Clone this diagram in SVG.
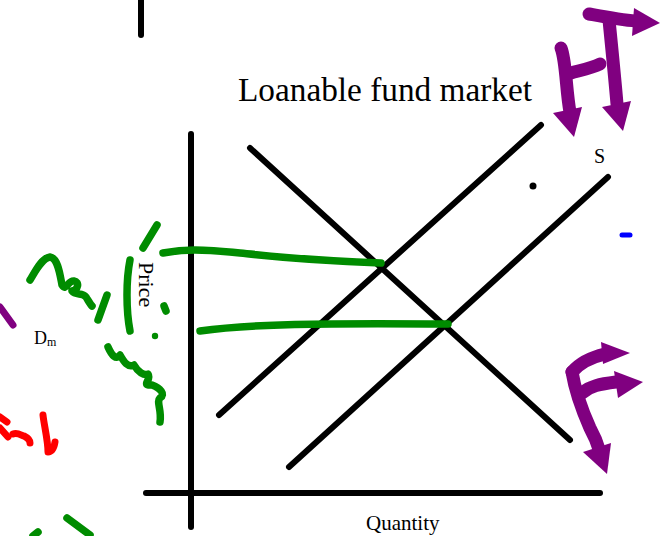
<svg xmlns="http://www.w3.org/2000/svg" width="663" height="536" viewBox="0 0 663 536">
<style>
.ax{stroke:#000;stroke-width:6;stroke-linecap:round;fill:none}
.g{stroke:#008c00;stroke-width:7.5;stroke-linecap:round;stroke-linejoin:round;fill:none}
.p{stroke:#800080;stroke-width:13;stroke-linecap:round;stroke-linejoin:round;fill:none}
.ph{fill:#800080}
.r{stroke:#ff0000;stroke-width:7;stroke-linecap:round;stroke-linejoin:round;fill:none}
.t{font-family:"Liberation Serif","Times New Roman",serif;fill:#000}
</style>
<rect width="663" height="536" fill="#fff"/>
<g id="axes">
<line class="ax" x1="141" y1="0" x2="141" y2="35"/>
<line class="ax" x1="191" y1="134" x2="191" y2="527"/>
<line class="ax" x1="146" y1="493" x2="600" y2="493"/>
</g>
<g id="connectors">
<line id="demand" class="ax" x1="250" y1="148" x2="570" y2="440"/>
<line id="supply1" class="ax" x1="219" y1="415" x2="541" y2="125"/>
<line id="supply2" class="ax" x1="289" y1="467" x2="608" y2="177"/>
</g>
<g id="labels">
<text class="t" x="238" y="101" font-size="33.3">Loanable fund market</text>
<text class="t" x="594" y="163" font-size="20">S</text>
<text class="t" x="366" y="530" font-size="21">Quantity</text>
<text class="t" transform="translate(139,262) rotate(90)" font-size="22">Price</text>
<text class="t" x="34" y="344" font-size="18">D<tspan font-size="12" dy="2">m</tspan></text>
<circle cx="533" cy="186" r="3.5" fill="#000"/>
</g>
<g id="green">
<path class="g" d="M163,253 C185,249 200,249 240,253 C280,257 300,260 381,263"/>
<path class="g" d="M200,331 C250,324 320,323 448,324"/>
<path class="g" d="M30,280 C36,270 42,258 50,257 C58,258 60,275 62,285 C66,292 68,280 74,281 C80,282 78,290 72,291 C76,296 82,292 86,297 C88,300 90,304 92,306"/>
<path class="g" d="M107,295 L98,320"/>
<path class="g" d="M157,225 L143,248"/>
<path class="g" d="M130,260 C126,280 126,310 130,331"/>
<path class="g" d="M164,306 L166,311"/>
<circle cx="155" cy="336" r="3.2" fill="#008c00"/>
<path class="g" d="M108,347 C112,356 116,360 120,355 C124,362 128,368 134,365 C138,372 144,376 148,374 C152,380 140,386 152,385 C160,388 166,394 160,398 C156,402 162,410 160,422"/>
<path class="g" d="M67,518 L90,535"/>
<path class="g" d="M33,536 L38,532"/>
</g>
<g id="red">
<path class="r" d="M0,417 L7,422 M0,428 L8,437"/>
<path class="r" d="M13,434 C18,432 22,436 24,436 C28,438 30,440 30,443"/>
<path class="r" d="M43,415 C44,425 48,440 48,452 C52,452 54,448 55,442"/>
</g>
<g id="purple">
<line x1="0" y1="307" x2="13" y2="325" stroke="#800080" stroke-width="7" stroke-linecap="round"/>
<path class="p" d="M589,14 C605,17 620,20 636,21"/>
<polygon class="ph" points="634,8 660,23 632,36"/>
<path class="p" d="M561,48 C566,60 566,90 570,112"/>
<polygon class="ph" points="553,113 582,107 574,137"/>
<path class="p" d="M571,73 C582,70 592,68 600,64"/>
<path class="p" d="M609,20 C612,50 615,80 617,104"/>
<polygon class="ph" points="602,107 631,101 623,131"/>
<path class="p" d="M572,372 C575,390 582,410 590,428 C595,437 598,445 600,452"/>
<polygon class="ph" points="583,452 611,443 607,474"/>
<path class="p" d="M572,372 C578,365 588,358 605,354"/>
<polygon class="ph" points="601,342 630,353 603,364"/>
<path class="p" d="M582,393 C590,386 600,384 616,382"/>
<polygon class="ph" points="614,371 643,382 618,398"/>
<line x1="622" y1="235" x2="630" y2="235" stroke="#0000ff" stroke-width="5" stroke-linecap="round"/>
</g>
</svg>
